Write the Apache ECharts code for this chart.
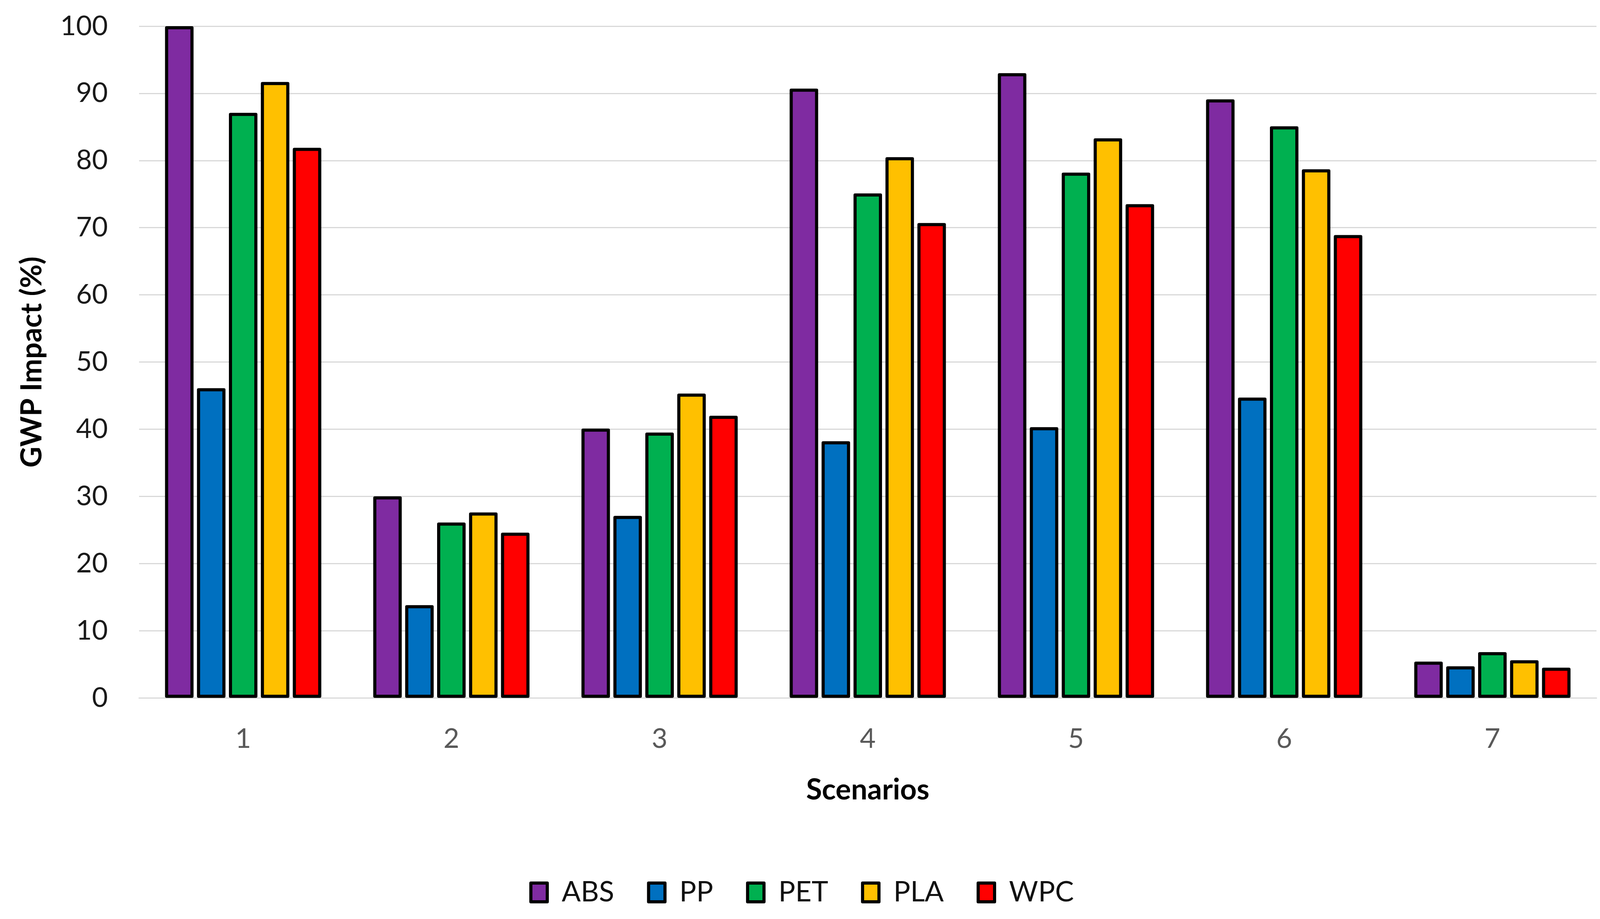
<!DOCTYPE html>
<html>
<head>
<meta charset="utf-8">
<script src="https://cdn.jsdelivr.net/npm/echarts@6/dist/echarts.min.js"></script>
<style>
html,body{margin:0;padding:0;background:#fff;}
#chart{width:4128px;height:2352px;}
</style>
</head>
<body>
<div id="chart"></div>
<script>
var scenarios = ['1','2','3','4','5','6','7'];
var yTicks = [0,10,20,30,40,50,60,70,80,90,100];
var seriesNames = ['ABS','PP','PET','PLA','WPC'];
var ABS = [100, 30.0, 40.1, 90.7, 93.0, 89.1, 5.4];
var PP  = [46.1, 13.8, 27.1, 38.2, 40.3, 44.7, 4.7];
var PET = [87.1, 26.1, 39.5, 75.1, 78.2, 85.1, 6.8];
var PLA = [91.7, 27.6, 45.3, 80.5, 83.3, 78.7, 5.6];
var WPC = [81.9, 24.6, 42.0, 70.7, 73.5, 68.9, 4.5];
var seriesValues = [ABS, PP, PET, PLA, WPC];
var colors = ['#7F2BA1', '#0070C0', '#00B050', '#FFC000', '#FF0000'];

var FONT = 'Lato';
var chart = echarts.init(document.getElementById('chart'), null, {renderer:'canvas'});

var series = seriesNames.map(function(n, i){
  return {
    name: n,
    type: 'bar',
    data: seriesValues[i],
    barWidth: 73,
    barGap: '12%',
    itemStyle: {color: colors[i], borderColor: '#000', borderWidth: 8, borderJoin: 'round'},
    emphasis: {disabled: true}
  };
});

chart.setOption({
  backgroundColor: '#ffffff',
  animation: false,
  textStyle: {fontFamily: FONT},
  grid: {left: 356, right: 41, top: 67, bottom: 566, containLabel: false},
  legend: {
    data: seriesNames,
    left: 1350,
    top: 2243,
    itemWidth: 42,
    itemHeight: 48,
    itemGap: 84,
    icon: 'rect',
    itemStyle: {borderColor: '#000', borderWidth: 8},
    textStyle: {fontFamily: FONT, fontSize: 72, color: '#111', padding: [0,0,0,32]}
  },
  xAxis: {
    type: 'category',
    data: scenarios,
    name: 'Scenarios',
    nameLocation: 'middle',
    nameGap: 199,
    nameTextStyle: {fontFamily: FONT, fontSize: 74, fontWeight: 'bold', color: '#000'},
    axisLine: {show: true, lineStyle: {color: '#d9d9d9', width: 3}},
    axisTick: {show: false},
    axisLabel: {fontFamily: FONT, fontSize: 70, color: '#595959', margin: 70}
  },
  yAxis: {
    type: 'value',
    min: yTicks[0],
    max: yTicks[yTicks.length-1],
    interval: yTicks[1]-yTicks[0],
    name: 'GWP Impact (%)',
    nameLocation: 'middle',
    nameGap: 237,
    nameRotate: 90,
    nameTextStyle: {fontFamily: FONT, fontSize: 74, fontWeight: 'bold', color: '#000'},
    axisLine: {show: false},
    axisTick: {show: false},
    splitLine: {show: true, lineStyle: {color: '#d9d9d9', width: 3}},
    axisLabel: {fontFamily: FONT, fontSize: 70, color: '#1a1a1a', margin: 80}
  },
  series: series
});
</script>
</body>
</html>
